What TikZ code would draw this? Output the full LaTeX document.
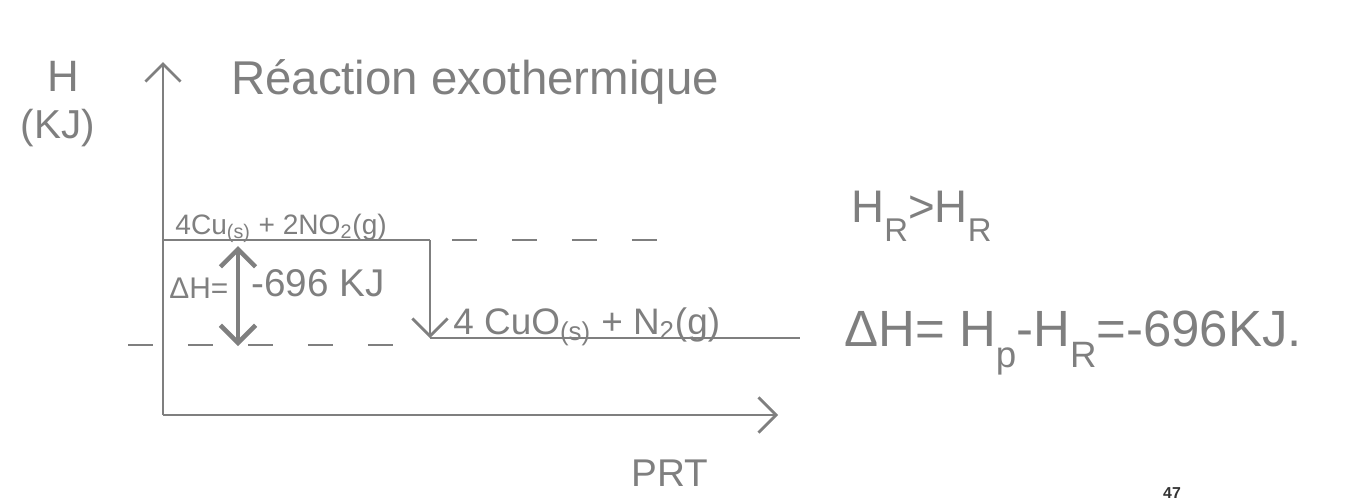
\documentclass[tikz,border=0pt]{standalone}
\usepackage{fontspec}
\usepackage{graphicx}
\setmainfont{Liberation Sans}
\usetikzlibrary{arrows.meta, positioning}
\definecolor{pencil}{HTML}{7F7F7F}
\newcommand{\lowsub}[1]{\raisebox{-0.42em}{\scalebox{0.72}{#1}}}

\begin{document}
\begin{tikzpicture}[x=0.02cm, y=-0.02cm, >={Straight Barb[length=10pt, width=20pt]},
    pencil, line width=1.6pt,
    txt/.style={inner sep=0pt, text=pencil},
    level/.style={line width=1.6pt},
    guide/.style={dashed, dash pattern=on 0.5cm off 0.7cm, line width=1.6pt}]
        \useasboundingbox (0,0) rectangle (1356,501);

        % Axes
        \coordinate (O) at (163,415);
        \coordinate (Y) at (163,62);
        \coordinate (X) at (778,415);
        \draw[->] (O) -- (Y);
        \draw[->] (O) -- (X);

        % Levels
        \coordinate (R0) at (163,240);
        \coordinate (R1) at (430,240);
        \coordinate (P0) at (430,338);
        \coordinate (P1) at (800,338);
        \coordinate (D0) at (452,240);
        \coordinate (D1) at (672,240);
        \coordinate (E0) at (128,345);
        \coordinate (E1) at (426,345);
        \coordinate (A0) at (238,246);
        \coordinate (A1) at (238,346);
        \draw[level] (R0) -- (R1);
        \draw[->] (R1) -- (P0);
        \draw[level] (P0) -- (P1);
        \draw[guide] (D0) -- (D1);
        \draw[guide] (E0) -- (E1);
        \draw[<->, line width=2.6pt] (A0) -- (A1);

        % Labels
        \node[txt, anchor=base, font=\fontsize{27}{30}\selectfont] (title) at (475,94) {Réaction exothermique};
        \node[txt, font=\fontsize{25}{28}\selectfont] (H) at (63,76) {H};
        \node[txt, font=\fontsize{23}{26}\selectfont] (KJ) at (58,128) {(KJ)};
        \node[txt, anchor=base, font=\fontsize{22}{24}\selectfont] (prt) at (670,486) {PRT};
        \node[txt, anchor=base west, font=\fontsize{16}{18}\selectfont] (react) at (174,234) {4Cu\textsubscript{(s)} + 2NO\textsubscript{2}(g)};
        \node[txt, anchor=base west, font=\fontsize{21}{24}\selectfont] (prod) at (452,334) {4 CuO\textsubscript{(s)} + N\textsubscript{2}(g)};
        \node[txt, anchor=base west, font=\fontsize{17}{20}\selectfont] (dHl) at (168,298) {ΔH=};
        \node[txt, anchor=base west, font=\fontsize{22}{24}\selectfont] (dHv) at (250,296) {-696 KJ};
        \node[txt, anchor=base west, font=\fontsize{26}{30}\selectfont] (ineq) at (850,222) {H\lowsub{R}>H\lowsub{R}};
        \node[txt, anchor=base west, font=\fontsize{29}{32}\selectfont] (dH) at (843,346) {ΔH= H\lowsub{p}-H\lowsub{R}=-696KJ.};
        \node[inner sep=0pt, anchor=north, text=black!80, font=\bfseries\fontsize{9}{11}\selectfont] (page) at (1172,486) {47};
\end{tikzpicture}
\end{document}
